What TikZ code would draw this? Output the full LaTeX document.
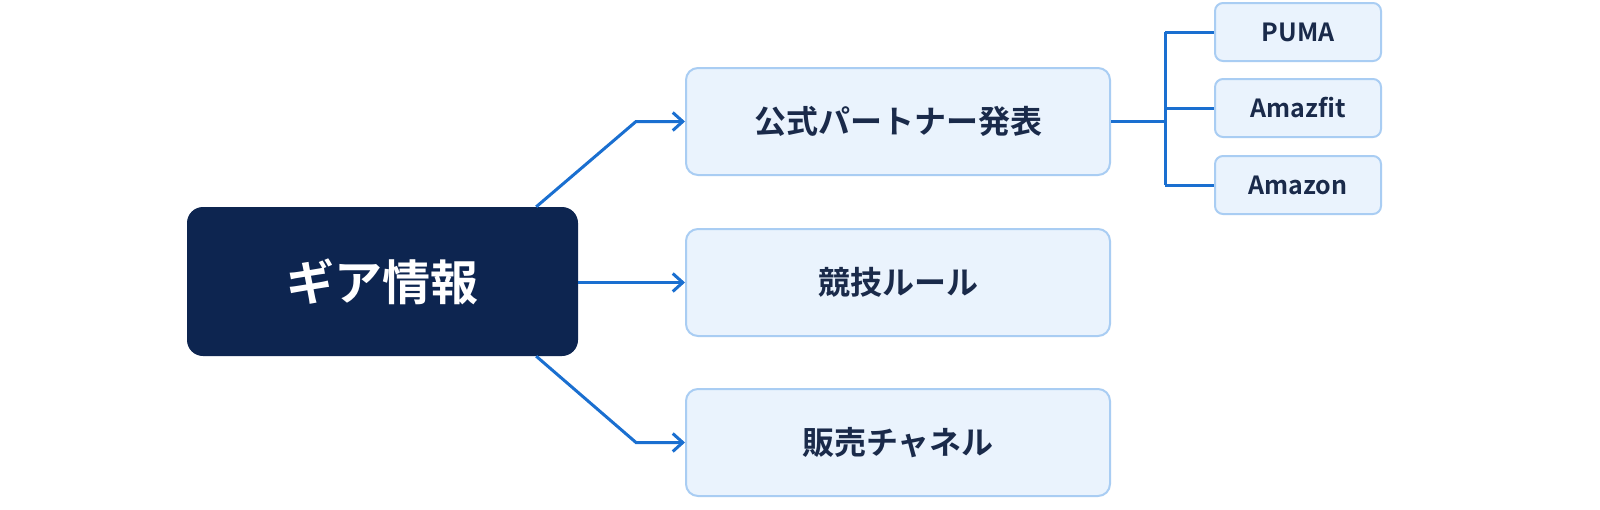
\documentclass[tikz,border=0pt]{standalone}
\usepackage{fontspec}
\setmainfont{Noto Sans CJK JP}[BoldFont={Noto Sans CJK JP Bold}]
\usetikzlibrary{arrows.meta}
\definecolor{navy}{HTML}{0D2550}
\definecolor{boxfill}{HTML}{EAF3FD}
\definecolor{boxline}{HTML}{A9CDF3}
\definecolor{txt}{HTML}{1A2A4A}
\definecolor{link}{HTML}{1A6FD0}
\begin{document}
\begin{tikzpicture}[x=1pt,y=-1pt,
  root/.style={draw=none,fill=navy,rounded corners=16pt,minimum width=391pt,minimum height=149pt,text=white,font=\bfseries\fontsize{48}{52}\selectfont},
  mid/.style={draw=boxline,line width=2pt,fill=boxfill,rounded corners=12pt,minimum width=424pt,minimum height=107pt,text=txt,font=\bfseries\fontsize{32}{36}\selectfont},
  leaf/.style={draw=boxline,line width=2pt,fill=boxfill,rounded corners=8pt,minimum width=166pt,minimum height=58pt,text=txt,font=\bfseries\fontsize{25}{28}\selectfont},
  con/.style={draw=link,line width=3pt},
  arr/.style={con,-{Straight Barb[length=10pt,width=18pt,line width=3pt]}}]
\fill[white!97!blue!2] (0,0) rectangle (1600,509);
\useasboundingbox (0,0) rectangle (1600,509);
\node[root] (r) at (382.5,281.5) {ギア情報};
\node[mid] (a) at (898,121.5) {公式パートナー発表};
\node[mid] (b) at (898,282.5) {競技ルール};
\node[mid] (c) at (898,442.5) {販売チャネル};
\node[leaf] (p) at (1298,32) {PUMA};
\node[leaf] (z) at (1298,108) {Amazfit};
\node[leaf] (n) at (1298,185) {Amazon};
\coordinate (j) at (1165,121.5);
\draw[arr] (r.north east) ++(-42,0) -- (636,121.5) -- (a.west);
\draw[arr] (r.east |- b.west) -- (b.west);
\draw[arr] (r.south east) ++(-42,0) -- (636,442.5) -- (c.west);
\draw[con] (a.east) -- (j);
\draw[con] (j |- p.west) -- (j |- n.west);
\draw[con] (j |- p.west) -- (p.west);
\draw[con] (j |- z.west) -- (z.west);
\draw[con] (j |- n.west) -- (n.west);
\end{tikzpicture}
\end{document}
